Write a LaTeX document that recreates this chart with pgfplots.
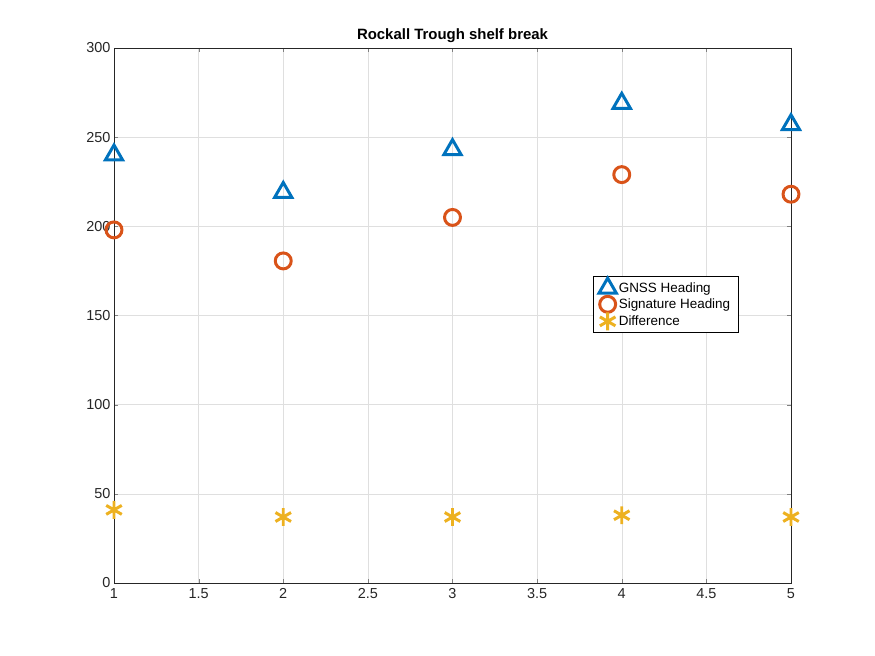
\documentclass[border=0pt]{standalone}
\usepackage{pgfplots}
\pgfplotsset{compat=1.18}
\usepackage{fontspec}
\setmainfont{Liberation Sans}
\definecolor{mblue}{RGB}{0,114,189}
\definecolor{morange}{RGB}{217,83,25}
\definecolor{myellow}{RGB}{237,177,32}
\begin{document}
\begin{tikzpicture}
\path[use as bounding box] (-114bp,-73bp) rectangle (761bp,583bp);
\begin{axis}[at={(0,0)},anchor=south west,scale only axis,width=677bp,height=535bp,
xmin=1,xmax=5,ymin=0,ymax=300,
xtick={1,1.5,...,5},ytick={0,50,...,300},
grid=major,grid style={gray!25},
tick align=inside, axis line style={black!85},
/pgf/number format/assume math mode=true,
ticklabel style={font=\fontsize{14.5}{16}\selectfont,text=black!85},
xticklabel style={yshift=-2pt},
title={\bfseries Rockall Trough shelf break},title style={font=\fontsize{15}{17}\selectfont,yshift=-4pt},
legend style={at={(0.923,0.574)},anchor=north east,font=\fontsize{13.5}{15}\selectfont,draw=black,row sep=0pt,inner xsep=6pt,
  nodes={inner sep=2.5pt}},
legend image code/.code={\draw[#1] plot coordinates {(0.7cm,0cm)};},
legend cell align=left,
clip=false]
\addplot[only marks,mblue,line width=3pt,mark=triangle,mark size=10pt] coordinates {(1,240)(2,219)(3,243)(4,269)(5,257)};
\addlegendentry{GNSS Heading}
\addplot[only marks,morange,line width=3pt,mark=o,mark size=8pt] coordinates {(1,198)(2,180.6)(3,205)(4,229)(5,218)};
\addlegendentry{Signature Heading}
\addplot[only marks,myellow,line width=3pt,mark=asterisk,mark size=9pt] coordinates {(1,41)(2,37)(3,37)(4,38)(5,37)};
\addlegendentry{Difference}
\end{axis}
\end{tikzpicture}
\end{document}
